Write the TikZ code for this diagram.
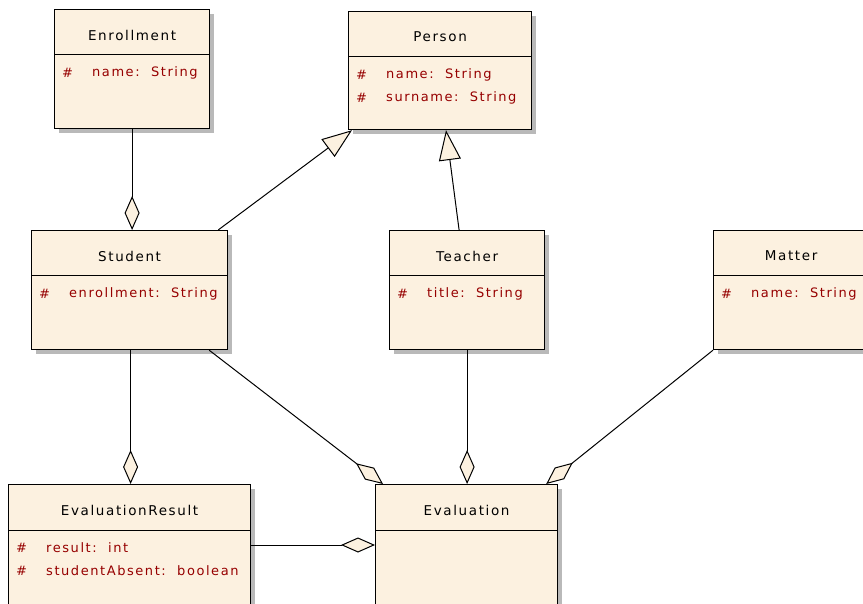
\documentclass[tikz,border=0pt]{standalone}
\usepackage{fontspec}
\setmainfont{DejaVu Sans}
\newfontfamily\umlfont{DejaVu Sans}[LetterSpace=12]
\usetikzlibrary{arrows.meta,shadows,calc}
\definecolor{cream}{RGB}{252,241,224}
\definecolor{attrred}{RGB}{150,0,0}
\definecolor{shadowgray}{RGB}{185,185,185}
\tikzset{
  classbox/.style={draw=black, line width=1.2pt, fill=cream, anchor=north west, inner sep=0pt,
    drop shadow={shadow xshift=4pt, shadow yshift=-4pt, fill=shadowgray, opacity=1}},
  clstitle/.style={font=\umlfont\fontsize{13.5}{16}\selectfont, text=black, inner sep=0pt},
  clshash/.style={font=\umlfont\fontsize{13}{16}\selectfont, text=attrred, anchor=west, inner sep=0pt},
  clsattr/.style={font=\umlfont\fontsize{13}{16}\selectfont, text=attrred, anchor=west, inner sep=0pt},
  conn/.style={line width=1pt, draw=black},
  agg/.style={conn, -{Diamond[length=34pt,width=15pt,fill=cream,line width=1pt]}},
  gen/.style={conn, -{Triangle[length=30pt,width=22pt,fill=cream,line width=1pt]}},
}
\newcommand\umlcls[6]{%
  \node[classbox, minimum width=#4pt, minimum height=#5pt] (#1) at (#2,#3) {};
  \draw[line width=1pt] ([yshift=-46pt]#1.north west) -- ([yshift=-46pt]#1.north east);
  \node[clstitle] (#1-t) at ([yshift=-26pt]#1.north) {#6};
}
\newcommand\umlattr[3]{% class, row, text
  \node[clshash] (#1-h#2) at ([xshift=8pt,yshift={-64pt-23pt*(#2-1)}]#1.north west) {\#};
  \node[clsattr] (#1-a#2) at ([xshift=38pt,yshift={-64pt-23pt*(#2-1)}]#1.north west) {#3};
}
\begin{document}
\begin{tikzpicture}[x=1pt,y=-1pt]
\useasboundingbox[fill=white] (0,0) rectangle (863,604);
\umlcls{enr}{54}{9}{155}{119}{Enrollment}
\umlattr{enr}{1}{name:\ \ String}
\umlcls{per}{348}{11}{183}{118}{Person}
\umlattr{per}{1}{name:\ \ String}
\umlattr{per}{2}{surname:\ \ String}
\umlcls{stu}{31}{230}{196}{119}{Student}
\umlattr{stu}{1}{enrollment:\ \ String}
\umlcls{tea}{389}{230}{155}{119}{Teacher}
\umlattr{tea}{1}{title:\ \ String}
\umlcls{mat}{713}{230}{155}{119}{Matter}
\umlattr{mat}{1}{name:\ \ String}
\umlcls{evr}{8}{484}{242}{130}{EvaluationResult}
\umlattr{evr}{1}{result:\ \ int}
\umlattr{evr}{2}{studentAbsent:\ \ boolean}
\umlcls{eva}{375}{484}{182}{130}{Evaluation}
% connectors
\draw[agg] (enr.south) -- (enr.south |- stu.north);
\draw[gen] ([xshift=-10pt]stu.north east) -- ([xshift=4pt]per.south west);
\draw[gen] ([xshift=-8pt]tea.north) -- ([xshift=98pt]per.south west);
\draw[agg] ([xshift=1pt]stu.south) -- ([xshift=1pt]stu.south |- evr.north);
\draw[agg] ([xshift=-19pt]stu.south east) -- ([xshift=8pt]eva.north west);
\draw[agg] (tea.south) -- (tea.south |- eva.north);
\draw[agg] (mat.south west) -- ([xshift=-12pt]eva.north east);
\draw[agg] ([yshift=-61pt]evr.north east) -- ([yshift=-61pt]eva.north west);
\end{tikzpicture}
\end{document}
